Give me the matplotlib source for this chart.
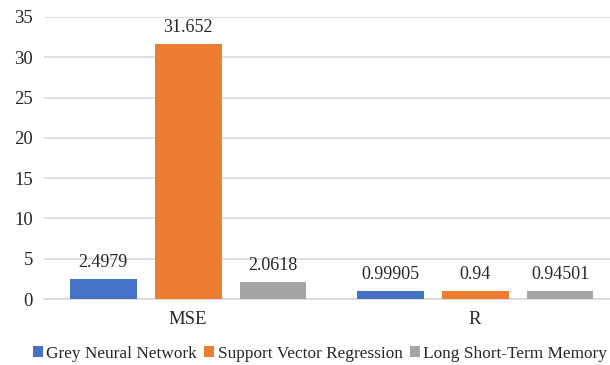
import matplotlib.pyplot as plt
import numpy as np

categories = ['MSE', 'R']
series = ['Grey Neural Network', 'Support Vector Regression', 'Long Short-Term Memory']
grey_nn = [2.4979, 0.99905]
svr = [31.652, 0.94]
lstm = [2.0618, 0.94501]
colors = ['#4472C4', '#ED7D31', '#A5A5A5']
text_col = '#262626'

plt.rcParams['font.family'] = ['Liberation Serif', 'DejaVu Serif']

fig = plt.figure(figsize=(6.1, 3.65), dpi=100)
ax = fig.add_axes([44 / 610, 66 / 365, 566 / 610, 282 / 365])

x = np.arange(len(categories))
width = 0.233
step = 0.296
for i, (vals, name) in enumerate(zip([grey_nn, svr, lstm], series)):
    pos = x + (i - 1) * step
    bars = ax.bar(pos, vals, width, color=colors[i], label=name, zorder=3)
    for b, v in zip(bars, vals):
        ax.annotate('%g' % v, (b.get_x() + b.get_width() / 2, v),
                    xytext=(0, 6), textcoords='offset points',
                    ha='center', va='bottom', fontsize=13, color=text_col)

ax.set_xlim(-0.502, 1.470)
ax.set_ylim(0, 35)
ax.set_yticks(range(0, 36, 5))
ax.yaxis.grid(True, color='#D9D9D9', linewidth=1.2, zorder=0)
for s in ['top', 'right', 'left']:
    ax.spines[s].set_visible(False)
ax.spines['bottom'].set_color('#D9D9D9')
ax.spines['bottom'].set_linewidth(1.2)
ax.tick_params(axis='both', length=0, labelsize=13.5, colors=text_col)
ax.tick_params(axis='y', pad=8)
ax.tick_params(axis='x', pad=9)
ax.set_xticks(x)
ax.set_xticklabels(categories)

fig.legend(loc='center', bbox_to_anchor=(320 / 610, 11 / 365), ncol=3, frameon=False,
           fontsize=12.4, handlelength=0.6, handleheight=0.6, handletextpad=0.2,
           columnspacing=0.4, labelcolor=text_col)

fig.savefig('out.png', dpi=100)
